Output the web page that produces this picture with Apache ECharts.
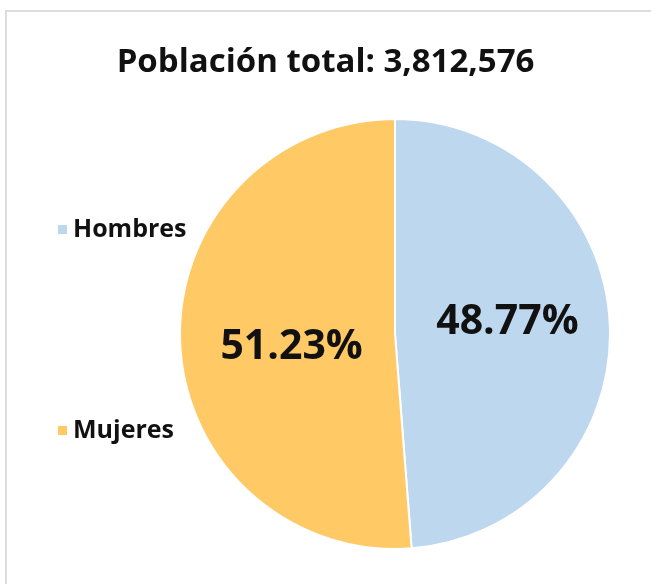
<!DOCTYPE html>
<html>
<head>
<meta charset="utf-8">
<script src="https://cdn.jsdelivr.net/npm/echarts@6/dist/echarts.min.js"></script>
<style>
html,body{margin:0;padding:0;background:#fff;}
#pie{width:651px;height:584px;}
</style>
</head>
<body>
<div id="pie"></div>
<script>
var titulo = 'Población total: 3,812,576';
var categorias = ['Hombres', 'Mujeres'];
var porcentajes = [48.77, 51.23];
var colores = ['#BDD7EE', '#FFC966'];

// ajuste fino de las etiquetas dentro del pastel
var desplazamientos = [[2, -7], [7, 9]];

var datos = [];
for (var i = 0; i < categorias.length; i++) {
    datos.push({
        name: categorias[i],
        value: porcentajes[i],
        label: {offset: desplazamientos[i]}
    });
}

var pie = echarts.init(document.getElementById('pie'));
pie.setOption({
    color: colores,
    animation: false,
    title: {
        text: titulo,
        left: 'center',
        top: 41,
        textStyle: {
            fontFamily: 'Open Sans',
            fontSize: 33,
            fontWeight: 'bold',
            color: '#111'
        }
    },
    legend: {
        orient: 'vertical',
        left: 51,
        top: 212,
        itemWidth: 11,
        itemHeight: 11,
        itemGap: 176,
        icon: 'rect',
        data: categorias,
        textStyle: {
            fontFamily: 'Open Sans',
            fontSize: 25,
            fontWeight: 'bold',
            color: '#111'
        }
    },
    graphic: [
        {type: 'line', shape: {x1: 5, y1: 11, x2: 651, y2: 11}, style: {stroke: '#dcdcdc', lineWidth: 2}},
        {type: 'line', shape: {x1: 6, y1: 11, x2: 6, y2: 584}, style: {stroke: '#dcdcdc', lineWidth: 2}}
    ],
    series: [
        {
            type: 'pie',
            center: [395, 334],
            radius: 215,
            startAngle: 90,
            clockwise: true,
            data: datos,
            itemStyle: {
                borderColor: '#fff',
                borderWidth: 2
            },
            label: {
                position: 'inside',
                formatter: function (p) { return p.value.toFixed(2) + '%'; },
                fontFamily: 'Open Sans',
                fontSize: 41,
                fontWeight: 'bold',
                color: '#111'
            },
            labelLine: {show: false},
            emphasis: {disabled: true}
        }
    ]
});
</script>
</body>
</html>
